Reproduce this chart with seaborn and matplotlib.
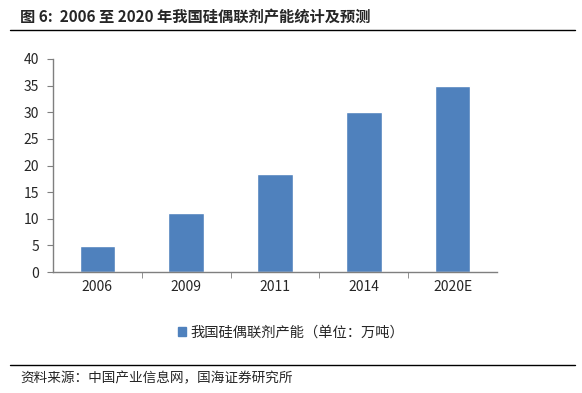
import numpy as np
import pandas as pd
import seaborn as sns
import matplotlib.pyplot as plt
from matplotlib.lines import Line2D
from matplotlib.patches import Patch

anos = ['2006', '2009', '2011', '2014', '2020E']
capacidade = [4.8, 11.1, 18.4, 30.0, 35.0]
serie = '我国硅偶联剂产能（单位：万吨）'
titulo = '图 6:  2006 至 2020 年我国硅偶联剂产能统计及预测'
fonte = '资料来源：中国产业信息网，国海证券研究所'

df = pd.DataFrame({'ano': anos, 'valor': capacidade})

sns.set_style('white')
plt.rcParams['font.family'] = ['Noto Sans CJK SC', 'DejaVu Sans']

cor = '#4f81bd'
fig = plt.figure(figsize=(5.82, 3.93), dpi=100)
ax = fig.add_axes([53 / 582, 1 - 272 / 393, 444 / 582, 213 / 393])

sns.barplot(data=df, x='ano', y='valor', color=cor, width=0.4, saturation=1, ax=ax)

ax.set_ylim(0, 40)
ax.set_xlim(-0.5, len(anos) - 0.5)
ax.set_yticks(range(0, 41, 5))
ax.set_xlabel('')
ax.set_ylabel('')
for s in ['top', 'right']:
    ax.spines[s].set_visible(False)
for s in ['left', 'bottom']:
    ax.spines[s].set_color('#7f7f7f')
    ax.spines[s].set_linewidth(1)

# ticks do eixo x ficam entre as categorias
ax.set_xticks(np.arange(0.5, len(anos) - 1, 1), minor=True)
ax.tick_params(axis='x', which='major', length=0, labelsize=10, pad=6)
ax.tick_params(axis='x', which='minor', length=4, color='#7f7f7f', direction='out', bottom=True)
ax.tick_params(axis='y', length=4, color='#7f7f7f', direction='out', left=True, labelsize=10, pad=6)

# legenda
ax.legend(handles=[Patch(color=cor)], labels=[serie], loc='center',
          bbox_to_anchor=(291 / 582, 1 - 333 / 393), bbox_transform=fig.transFigure,
          frameon=False, fontsize=10.3, handlelength=0.6, handleheight=0.6, handletextpad=0.3)

# titulo e fonte
fig.text(20 / 582, 1 - 17 / 393, titulo, fontsize=11, fontweight='bold', va='center', ha='left')
fig.add_artist(Line2D([10 / 582, 575 / 582], [1 - 30 / 393, 1 - 30 / 393], color='black', lw=1))
fig.add_artist(Line2D([10 / 582, 575 / 582], [1 - 365 / 393, 1 - 365 / 393], color='black', lw=1))
fig.text(20 / 582, 1 - 378 / 393, fonte, fontsize=9.8, va='center', ha='left')

fig.savefig('out.png', dpi=100)
